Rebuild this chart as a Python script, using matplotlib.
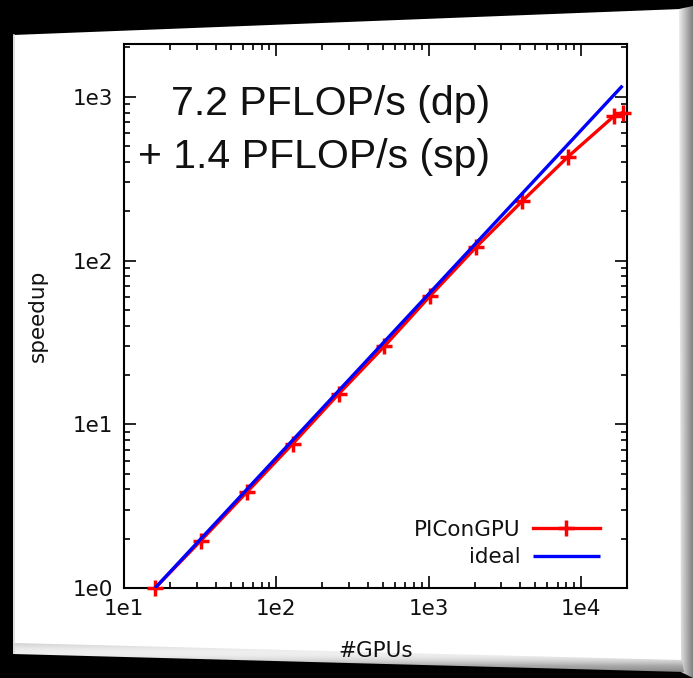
import numpy as np
import matplotlib
matplotlib.use("Agg")
import matplotlib.pyplot as plt
from matplotlib.patches import Polygon
from matplotlib.ticker import FixedLocator, FixedFormatter, LogLocator, NullFormatter

# ---- data -------------------------------------------------------------
gpus = [16, 32, 64, 128, 256, 512, 1024, 2048, 4096, 8192, 16384, 18688]
speedup = [1.0, 1.95, 3.85, 7.6, 15.3, 30.0, 61.0, 121.0, 230.0, 430.0, 760.0, 800.0]

ideal_gpus = [16, 18688]
ideal_speedup = [1.0, 1168.0]

x_ticks = [10, 100, 1000, 10000]
x_tick_labels = ["1e1", "1e2", "1e3", "1e4"]
y_ticks = [1, 10, 100, 1000]
y_tick_labels = ["1e0", "1e1", "1e2", "1e3"]

W, H = 693, 678
fig = plt.figure(figsize=(W / 100, H / 100), dpi=100, facecolor="black")


def fx(x):
    return x / W


def fy(y):
    return 1 - y / H


# ---- background panel (pixel space) ------------------------------------
bg = fig.add_axes([0, 0, 1, 1])
bg.set_xlim(0, W)
bg.set_ylim(H, 0)
bg.axis("off")
bg.add_patch(Polygon([(0, 0), (W, 0), (W, H), (0, H)], closed=True,
                     facecolor="black", edgecolor="none", zorder=0))

panel = Polygon([(13, 35), (681, 9), (683, 671), (13, 653)], closed=True,
                facecolor="white", edgecolor="none", zorder=1)
bg.add_patch(panel)

# right bevel
right_bevel = Polygon([(679, 9), (693, 6), (693, 678), (681, 672)], closed=True,
                      facecolor="none", edgecolor="none", zorder=2)
bg.add_patch(right_bevel)
grad_r = np.linspace(0.93, 0.50, 64)[None, :]
im = bg.imshow(np.repeat(grad_r, 2, axis=0), cmap="gray", vmin=0, vmax=1,
               extent=(679, 693, 678, 5), aspect="auto", zorder=2,
               interpolation="bicubic")
im.set_clip_path(right_bevel)

# bottom bevel
bottom_bevel = Polygon([(13, 643), (682, 660), (684, 672), (13, 654)], closed=True,
                       facecolor="none", edgecolor="none", zorder=2)
bg.add_patch(bottom_bevel)
yy = np.linspace(0, 1, 64)
shade = 0.80 + 0.15 * np.sin(np.pi * np.clip(yy * 1.3, 0, 1)) - 0.30 * yy ** 3
im2 = bg.imshow(np.repeat(shade[:, None], 2, axis=1), cmap="gray", vmin=0, vmax=1,
                extent=(13, 684, 673, 642), aspect="auto", zorder=2,
                interpolation="bicubic")
im2.set_clip_path(bottom_bevel)

# left edge highlight
bg.plot([13.5, 13.5], [35, 653], color="#d8d8d8", lw=1.2, zorder=3)

# ---- chart ---------------------------------------------------------------
ax_left, ax_right, ax_top, ax_bottom = 124, 627, 44, 588
ax = fig.add_axes([fx(ax_left), fy(ax_bottom), fx(ax_right - ax_left),
                   (ax_bottom - ax_top) / H])
ax.set_facecolor("none")
ax.set_xscale("log")
ax.set_yscale("log")
ax.set_xlim(10, 20000)
ax.set_ylim(1, 2100)

ax.plot(gpus, speedup, color="#ff0000", lw=2.4, marker="+", markersize=11,
        markeredgewidth=2.5, label="PIConGPU", zorder=3, clip_on=False)
ax.plot(ideal_gpus, ideal_speedup, color="#0000ff", lw=2.4, label="ideal",
        zorder=4, solid_capstyle="butt")

ax.xaxis.set_major_locator(FixedLocator(x_ticks))
ax.xaxis.set_major_formatter(FixedFormatter(x_tick_labels))
ax.yaxis.set_major_locator(FixedLocator(y_ticks))
ax.yaxis.set_major_formatter(FixedFormatter(y_tick_labels))
ax.xaxis.set_minor_locator(LogLocator(base=10, subs=np.arange(2, 10)))
ax.yaxis.set_minor_locator(LogLocator(base=10, subs=np.arange(2, 10)))
ax.xaxis.set_minor_formatter(NullFormatter())
ax.yaxis.set_minor_formatter(NullFormatter())

label_font = {"family": "DejaVu Sans", "size": 15.5, "color": "#111111"}
ax.tick_params(which="both", direction="in", top=True, right=True,
               colors="black", labelsize=15.5, labelcolor="#111111")
ax.tick_params(which="major", length=8.5, width=1.2, pad=8)
ax.tick_params(which="minor", length=4, width=1.2)
for s in ax.spines.values():
    s.set_linewidth(1.5)
    s.set_color("black")

ax.set_xlabel("#GPUs", fontdict=label_font, labelpad=16)
ax.set_ylabel("speedup", fontdict=label_font, labelpad=18)

leg = ax.legend(loc="lower right", frameon=False, markerfirst=False,
                numpoints=1, handlelength=3.15, handletextpad=0.55,
                labelspacing=0.35, borderaxespad=0,
                bbox_to_anchor=(fx(609), fy(576)),
                bbox_transform=fig.transFigure,
                prop={"family": "DejaVu Sans", "size": 15.5})
for t in leg.get_texts():
    t.set_color("#111111")

fig.text(fx(490), fy(104), "7.2 PFLOP/s (dp)", ha="right", va="center",
         fontsize=29.5, family="Liberation Sans", color="#111111")
fig.text(fx(490), fy(157), "+ 1.4 PFLOP/s (sp)", ha="right", va="center",
         fontsize=29.5, family="Liberation Sans", color="#111111")

fig.savefig("out.png", dpi=100, facecolor="black")
